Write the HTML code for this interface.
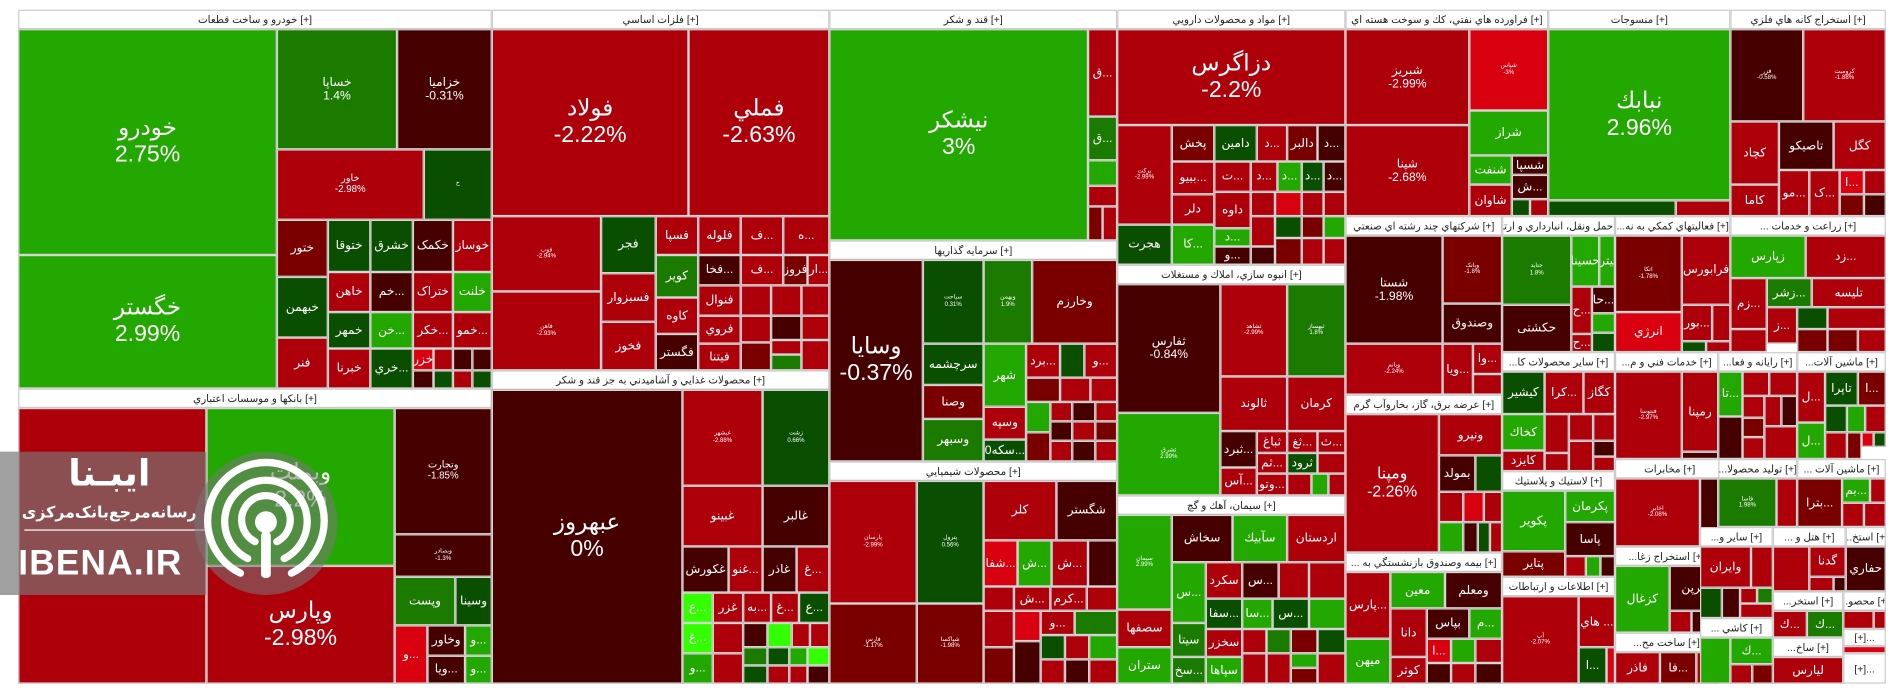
<!DOCTYPE html>
<html><head><meta charset="utf-8">
<style>
html,body{margin:0;padding:0;background:#fff;width:1904px;height:698px;overflow:hidden}
#w{position:absolute;left:0;top:0;width:1568px;height:576px;transform:scale(1.21429);transform-origin:0 0;font-family:"Liberation Sans","DejaVu Sans",sans-serif}
.t{position:absolute;box-sizing:border-box;border:1px solid #d6d6d6;display:flex;flex-direction:column;align-items:center;justify-content:center;color:#fff;font-size:8px;overflow:hidden;text-align:center;line-height:1.1;white-space:nowrap}
.h{position:absolute;box-sizing:border-box;border:1px solid #ccc;background:#fff;color:#222;font-size:8.5px;display:flex;align-items:center;justify-content:center;overflow:hidden;white-space:nowrap}
.L{font-size:19px;line-height:1.15}
.M{font-size:10px}
.S{font-size:5px}
.g{background:#22a800}.m{background:#1b7b00}.d{background:#0a4f00}.r{background:#ae000b}.k{background:#470000}.e{background:#7a0000}.b{background:#d9000f}.l{background:#33ff00}
</style></head><body><div id="w">
<!-- group 1 خودرو -->
<div class="h" style="left:15px;top:8px;width:390px;height:16px">خودرو و ساخت قطعات [+]</div>
<div class="t g L" style="left:15px;top:24px;width:213px;height:186px">خودرو<br>2.75%</div>
<div class="t g L" style="left:15px;top:210px;width:213px;height:110px">خگستر<br>2.99%</div>
<div class="t m M" style="left:228px;top:24px;width:99px;height:99px">خساپا<br>1.4%</div>
<div class="t k M" style="left:327px;top:24px;width:78px;height:99px">خزامیا<br>-0.31%</div>
<div class="t r" style="left:228px;top:123px;width:121px;height:58px">خاور<br>-2.98%</div>
<div class="t d S" style="left:349px;top:123px;width:56px;height:58px">خ</div>
<div class="t e M" style="left:228px;top:181px;width:42px;height:47px">ختور</div>
<div class="t d M" style="left:228px;top:228px;width:42px;height:50px">خبهمن</div>
<div class="t r M" style="left:228px;top:278px;width:42px;height:42px">فنر</div>
<div class="t d M" style="left:270px;top:181px;width:35px;height:43px">ختوقا</div>
<div class="t r M" style="left:270px;top:224px;width:35px;height:33px">خاهن</div>
<div class="t d M" style="left:270px;top:257px;width:35px;height:30px">خمهر</div>
<div class="t r M" style="left:270px;top:287px;width:35px;height:33px">خبرنا</div>
<div class="t d M" style="left:305px;top:181px;width:35px;height:43px">خشرق</div>
<div class="t k M" style="left:305px;top:224px;width:35px;height:33px">خم...</div>
<div class="t g M" style="left:305px;top:257px;width:35px;height:30px">خن...</div>
<div class="t d M" style="left:305px;top:287px;width:35px;height:33px">خري...</div>
<div class="t k M" style="left:340px;top:181px;width:33px;height:43px">خکمک</div>
<div class="t r M" style="left:340px;top:224px;width:33px;height:33px">ختراک</div>
<div class="t r M" style="left:340px;top:257px;width:33px;height:30px">خکر...</div>
<div class="t b M" style="left:340px;top:287px;width:17px;height:18px">خزر</div>
<div class="t r" style="left:357px;top:287px;width:16px;height:18px"></div>
<div class="t k" style="left:340px;top:305px;width:17px;height:15px"></div>
<div class="t d" style="left:357px;top:305px;width:16px;height:15px"></div>
<div class="t r M" style="left:373px;top:181px;width:32px;height:43px">خوساز</div>
<div class="t g M" style="left:373px;top:224px;width:32px;height:33px">خلنت</div>
<div class="t r M" style="left:373px;top:257px;width:32px;height:30px">خمو...</div>
<div class="t k" style="left:373px;top:287px;width:16px;height:18px"></div>
<div class="t k" style="left:389px;top:287px;width:16px;height:18px"></div>
<div class="t r" style="left:373px;top:305px;width:16px;height:15px"></div>
<div class="t d" style="left:389px;top:305px;width:16px;height:15px"></div>
<!-- banks -->
<div class="h" style="left:15px;top:320px;width:390px;height:16px">بانکها و موسسات اعتباري [+]</div>
<div class="t r" style="left:15px;top:336px;width:155px;height:227px"></div>
<div class="t g L" style="left:170px;top:336px;width:155px;height:130px">وبملت<br>2.2%</div>
<div class="t r L" style="left:170px;top:466px;width:155px;height:97px">وپارس<br>-2.98%</div>
<div class="t k" style="left:325px;top:336px;width:80px;height:104px">وتجارت<br>-1.85%</div>
<div class="t k S" style="left:325px;top:440px;width:80px;height:35px">وبصادر<br>-1.3%</div>
<div class="t m M" style="left:325px;top:475px;width:50px;height:40px">وپست</div>
<div class="t d M" style="left:375px;top:475px;width:30px;height:40px">وسینا</div>
<div class="t b M" style="left:325px;top:515px;width:27px;height:48px">و...</div>
<div class="t k M" style="left:352px;top:515px;width:31px;height:25px">وخاور</div>
<div class="t g M" style="left:383px;top:515px;width:22px;height:25px">و...</div>
<div class="t k M" style="left:352px;top:540px;width:31px;height:23px">ویا...</div>
<div class="t g M" style="left:383px;top:540px;width:22px;height:23px">و...</div>
<!-- فلزات -->
<div class="h" style="left:405px;top:8px;width:278px;height:16px">فلزات اساسي [+]</div>
<div class="t r L" style="left:405px;top:24px;width:162px;height:154px">فولاد<br>-2.22%</div>
<div class="t r L" style="left:567px;top:24px;width:116px;height:154px">فملي<br>-2.63%</div>
<div class="t r S" style="left:405px;top:178px;width:90px;height:62px">فوب<br>-2.94%</div>
<div class="t r S" style="left:405px;top:240px;width:90px;height:65px">فاهن<br>-2.93%</div>
<div class="t d M" style="left:495px;top:178px;width:45px;height:47px">فجر</div>
<div class="t r M" style="left:495px;top:225px;width:45px;height:40px">فسبزوار</div>
<div class="t r M" style="left:495px;top:265px;width:45px;height:40px">فخوز</div>
<div class="t r M" style="left:540px;top:178px;width:35px;height:32px">فسپا</div>
<div class="t m M" style="left:540px;top:210px;width:35px;height:35px">کویر</div>
<div class="t r M" style="left:540px;top:245px;width:35px;height:30px">کاوه</div>
<div class="t k M" style="left:540px;top:275px;width:35px;height:30px">فگستر</div>
<div class="t r M" style="left:575px;top:178px;width:35px;height:32px">فلوله</div>
<div class="t k M" style="left:575px;top:210px;width:35px;height:25px">فخا...</div>
<div class="t r M" style="left:575px;top:235px;width:35px;height:25px">فنوال</div>
<div class="t r M" style="left:575px;top:260px;width:35px;height:23px">فروي</div>
<div class="t r M" style="left:575px;top:283px;width:35px;height:22px">فيتنا</div>
<div class="t r M" style="left:610px;top:178px;width:35px;height:32px">ف...</div>
<div class="t r M" style="left:610px;top:210px;width:35px;height:25px">ف...</div>
<div class="t r" style="left:610px;top:235px;width:25px;height:25px"></div>
<div class="t r" style="left:610px;top:260px;width:25px;height:22px"></div>
<div class="t e" style="left:610px;top:282px;width:25px;height:23px"></div>
<div class="t r" style="left:635px;top:235px;width:25px;height:25px"></div>
<div class="t k" style="left:635px;top:260px;width:25px;height:20px"></div>
<div class="t r" style="left:635px;top:280px;width:25px;height:12px"></div>
<div class="t m" style="left:635px;top:292px;width:25px;height:13px"></div>
<div class="t r M" style="left:645px;top:178px;width:38px;height:32px">ه...</div>
<div class="t e M" style="left:645px;top:210px;width:20px;height:25px">فروز</div>
<div class="t r M" style="left:665px;top:210px;width:18px;height:25px">ار...</div>
<div class="t r" style="left:660px;top:235px;width:23px;height:25px"></div>
<div class="t r" style="left:660px;top:260px;width:23px;height:20px"></div>
<div class="t r" style="left:660px;top:280px;width:23px;height:25px"></div>
<!-- food -->
<div class="h" style="left:405px;top:305px;width:278px;height:16px">محصولات غذايي و آشاميدني به جز قند و شکر [+]</div>
<div class="t k L" style="left:405px;top:321px;width:157px;height:242px">عبهروز<br>0%</div>
<div class="t r S" style="left:562px;top:321px;width:66px;height:79px">غبشهر<br>-2.88%</div>
<div class="t d S" style="left:628px;top:321px;width:55px;height:79px">زشت<br>0.66%</div>
<div class="t r M" style="left:562px;top:400px;width:66px;height:50px">غبینو</div>
<div class="t k M" style="left:628px;top:400px;width:55px;height:50px">غالبر</div>
<div class="t k M" style="left:562px;top:450px;width:38px;height:38px">غکورش</div>
<div class="t r M" style="left:600px;top:450px;width:28px;height:38px">غنو...</div>
<div class="t k M" style="left:628px;top:450px;width:28px;height:38px">غاذر</div>
<div class="t r M" style="left:656px;top:450px;width:27px;height:38px">غ...</div>
<div class="t l M" style="left:562px;top:488px;width:25px;height:25px">ع...</div>
<div class="t r M" style="left:587px;top:488px;width:25px;height:25px">غزر</div>
<div class="t r M" style="left:612px;top:488px;width:23px;height:25px">به...</div>
<div class="t r M" style="left:635px;top:488px;width:23px;height:25px">غ...</div>
<div class="t d M" style="left:658px;top:488px;width:25px;height:25px">ع...</div>
<div class="t l M" style="left:562px;top:513px;width:25px;height:25px">غ...</div>
<div class="t g M" style="left:562px;top:538px;width:25px;height:25px">و...</div>
<div class="t r" style="left:587px;top:513px;width:25px;height:25px"></div>
<div class="t r" style="left:587px;top:538px;width:25px;height:25px"></div>
<div class="t k" style="left:612px;top:513px;width:20px;height:20px"></div>
<div class="t l" style="left:632px;top:513px;width:20px;height:20px"></div>
<div class="t r" style="left:652px;top:513px;width:15px;height:20px"></div>
<div class="t r" style="left:667px;top:513px;width:16px;height:20px"></div>
<div class="t m" style="left:612px;top:533px;width:20px;height:15px"></div>
<div class="t d" style="left:632px;top:533px;width:18px;height:15px"></div>
<div class="t g" style="left:650px;top:533px;width:15px;height:15px"></div>
<div class="t l" style="left:665px;top:533px;width:18px;height:15px"></div>
<div class="t d" style="left:612px;top:548px;width:20px;height:15px"></div>
<div class="t r" style="left:632px;top:548px;width:18px;height:15px"></div>
<div class="t r" style="left:650px;top:548px;width:15px;height:15px"></div>
<div class="t k" style="left:665px;top:548px;width:18px;height:15px"></div>
<!-- قند -->
<div class="h" style="left:683px;top:8px;width:237px;height:16px">قند و شکر [+]</div>
<div class="t g L" style="left:683px;top:24px;width:213px;height:174px">نیشکر<br>3%</div>
<div class="t r M" style="left:896px;top:24px;width:24px;height:72px">ق...</div>
<div class="t m M" style="left:896px;top:96px;width:24px;height:36px">ق...</div>
<div class="t g" style="left:896px;top:132px;width:24px;height:21px"></div>
<div class="t r" style="left:896px;top:153px;width:24px;height:17px"></div>
<div class="t e" style="left:896px;top:170px;width:12px;height:28px"></div>
<div class="t r" style="left:908px;top:170px;width:12px;height:28px"></div>
<!-- سرمایه -->
<div class="h" style="left:683px;top:198px;width:237px;height:16px">سرمايه گذاريها [+]</div>
<div class="t k L" style="left:683px;top:214px;width:77px;height:166px">وسایا<br>-0.37%</div>
<div class="t d S" style="left:760px;top:214px;width:50px;height:69px">سیاحت<br>0.31%</div>
<div class="t m S" style="left:810px;top:214px;width:40px;height:69px">وبهمن<br>1.9%</div>
<div class="t e M" style="left:850px;top:214px;width:70px;height:69px">وخارزم</div>
<div class="t d M" style="left:760px;top:283px;width:50px;height:34px">سرچشمه</div>
<div class="t e M" style="left:760px;top:317px;width:50px;height:28px">وصنا</div>
<div class="t m M" style="left:760px;top:345px;width:50px;height:35px">وسبهر</div>
<div class="t g M" style="left:810px;top:283px;width:35px;height:52px">شهر</div>
<div class="t r M" style="left:810px;top:335px;width:35px;height:27px">وسپه</div>
<div class="t d M" style="left:810px;top:362px;width:35px;height:18px">0سکه...</div>
<div class="t r M" style="left:845px;top:283px;width:28px;height:28px">برد...</div>
<div class="t d" style="left:873px;top:283px;width:20px;height:28px"></div>
<div class="t r M" style="left:893px;top:283px;width:27px;height:28px">و...</div>
<div class="t e" style="left:845px;top:311px;width:28px;height:20px"></div>
<div class="t r" style="left:873px;top:311px;width:25px;height:20px"></div>
<div class="t r" style="left:898px;top:311px;width:22px;height:20px"></div>
<div class="t g" style="left:845px;top:331px;width:20px;height:25px"></div>
<div class="t e" style="left:845px;top:356px;width:20px;height:24px"></div>
<div class="t r" style="left:865px;top:331px;width:18px;height:16px"></div>
<div class="t k" style="left:883px;top:331px;width:19px;height:16px"></div>
<div class="t r" style="left:902px;top:331px;width:18px;height:16px"></div>
<div class="t k" style="left:865px;top:347px;width:18px;height:16px"></div>
<div class="t r" style="left:883px;top:347px;width:19px;height:16px"></div>
<div class="t e" style="left:902px;top:347px;width:18px;height:16px"></div>
<div class="t r" style="left:865px;top:363px;width:18px;height:17px"></div>
<div class="t k" style="left:883px;top:363px;width:19px;height:17px"></div>
<div class="t r" style="left:902px;top:363px;width:18px;height:17px"></div>
<!-- شیمیایی -->
<div class="h" style="left:683px;top:380px;width:237px;height:16px">محصولات شيميايي [+]</div>
<div class="t r S" style="left:683px;top:396px;width:72px;height:101px">پارسان<br>-2.99%</div>
<div class="t e S" style="left:683px;top:497px;width:72px;height:66px">فارس<br>-1.17%</div>
<div class="t d S" style="left:755px;top:396px;width:55px;height:101px">پترول<br>0.56%</div>
<div class="t e S" style="left:755px;top:497px;width:55px;height:66px">شپاکسا<br>-1.98%</div>
<div class="t r M" style="left:810px;top:396px;width:60px;height:49px">کلر</div>
<div class="t k M" style="left:870px;top:396px;width:50px;height:49px">شگستر</div>
<div class="t b M" style="left:810px;top:445px;width:28px;height:38px">شفا...</div>
<div class="t g M" style="left:838px;top:445px;width:28px;height:38px">ش...</div>
<div class="t r M" style="left:866px;top:445px;width:30px;height:38px">ش...</div>
<div class="t k" style="left:896px;top:445px;width:24px;height:38px"></div>
<div class="t r" style="left:810px;top:483px;width:25px;height:20px"></div>
<div class="t r M" style="left:835px;top:483px;width:30px;height:20px">ش...</div>
<div class="t r M" style="left:865px;top:483px;width:30px;height:20px">کرم...</div>
<div class="t r" style="left:895px;top:483px;width:25px;height:20px"></div>
<div class="t r" style="left:810px;top:503px;width:25px;height:30px"></div>
<div class="t b" style="left:835px;top:503px;width:22px;height:25px"></div>
<div class="t r M" style="left:857px;top:503px;width:28px;height:20px">و...</div>
<div class="t m" style="left:885px;top:503px;width:35px;height:20px"></div>
<div class="t d" style="left:857px;top:523px;width:20px;height:20px"></div>
<div class="t r" style="left:877px;top:523px;width:20px;height:20px"></div>
<div class="t g" style="left:897px;top:523px;width:23px;height:20px"></div>
<div class="t k" style="left:835px;top:528px;width:22px;height:35px"></div>
<div class="t e" style="left:810px;top:533px;width:25px;height:30px"></div>
<div class="t r" style="left:857px;top:543px;width:20px;height:20px"></div>
<div class="t k" style="left:877px;top:543px;width:20px;height:20px"></div>
<div class="t r" style="left:897px;top:543px;width:23px;height:20px"></div>
<!-- دارویی -->
<div class="h" style="left:920px;top:8px;width:188px;height:16px">مواد و محصولات دارويي [+]</div>
<div class="t r L" style="left:920px;top:24px;width:188px;height:79px">دزاگرس<br>-2.2%</div>
<div class="t r S" style="left:920px;top:103px;width:45px;height:82px">برکت<br>-2.99%</div>
<div class="t d M" style="left:920px;top:185px;width:45px;height:33px">هجرت</div>
<div class="t e M" style="left:965px;top:103px;width:35px;height:30px">پخش</div>
<div class="t r M" style="left:965px;top:133px;width:35px;height:27px">ببیو...</div>
<div class="t r M" style="left:965px;top:160px;width:35px;height:25px">دلر</div>
<div class="t g M" style="left:965px;top:185px;width:35px;height:33px">کا...</div>
<div class="t d M" style="left:1000px;top:103px;width:35px;height:30px">دامین</div>
<div class="t r M" style="left:1035px;top:103px;width:25px;height:30px">د...</div>
<div class="t e M" style="left:1060px;top:103px;width:25px;height:30px">دالبر</div>
<div class="t k M" style="left:1085px;top:103px;width:23px;height:30px">د...</div>
<div class="t r M" style="left:1000px;top:133px;width:30px;height:25px">ت...</div>
<div class="t r M" style="left:1030px;top:133px;width:22px;height:25px">د...</div>
<div class="t g M" style="left:1052px;top:133px;width:20px;height:25px">د...</div>
<div class="t d M" style="left:1072px;top:133px;width:18px;height:25px">د...</div>
<div class="t k M" style="left:1090px;top:133px;width:18px;height:25px">د...</div>
<div class="t r M" style="left:1000px;top:158px;width:30px;height:30px">داوه</div>
<div class="t g M" style="left:1000px;top:188px;width:30px;height:15px">د...</div>
<div class="t k M" style="left:1000px;top:203px;width:30px;height:15px">و...</div>
<div class="t r" style="left:1030px;top:158px;width:20px;height:20px"></div>
<div class="t b" style="left:1050px;top:158px;width:22px;height:20px"></div>
<div class="t r" style="left:1072px;top:158px;width:18px;height:20px"></div>
<div class="t r" style="left:1090px;top:158px;width:18px;height:20px"></div>
<div class="t r" style="left:1030px;top:178px;width:20px;height:25px"></div>
<div class="t d" style="left:1050px;top:178px;width:22px;height:18px"></div>
<div class="t e" style="left:1072px;top:178px;width:18px;height:18px"></div>
<div class="t g" style="left:1090px;top:178px;width:18px;height:18px"></div>
<div class="t k" style="left:1030px;top:203px;width:20px;height:15px"></div>
<div class="t e" style="left:1050px;top:196px;width:22px;height:22px"></div>
<div class="t r" style="left:1072px;top:196px;width:18px;height:22px"></div>
<div class="t r" style="left:1090px;top:196px;width:18px;height:22px"></div>
<!-- انبوه -->
<div class="h" style="left:920px;top:218px;width:188px;height:16px">انبوه سازي، املاك و مستغلات [+]</div>
<div class="t k M" style="left:920px;top:234px;width:85px;height:106px">ثفارس<br>-0.84%</div>
<div class="t g S" style="left:920px;top:340px;width:85px;height:68px">ثشرق<br>2.99%</div>
<div class="t r S" style="left:1005px;top:234px;width:55px;height:76px">ثشاهد<br>-2.99%</div>
<div class="t m S" style="left:1060px;top:234px;width:48px;height:76px">ثبهساز<br>1.8%</div>
<div class="t r M" style="left:1005px;top:310px;width:55px;height:45px">ثالوند</div>
<div class="t r M" style="left:1060px;top:310px;width:48px;height:45px">کرمان</div>
<div class="t k M" style="left:1005px;top:355px;width:30px;height:30px">ثبرد...</div>
<div class="t r M" style="left:1005px;top:385px;width:30px;height:23px">آس...</div>
<div class="t r M" style="left:1035px;top:355px;width:25px;height:18px">ثباغ</div>
<div class="t r M" style="left:1060px;top:355px;width:25px;height:18px">ثغ...</div>
<div class="t r M" style="left:1085px;top:355px;width:23px;height:18px">ث...</div>
<div class="t r M" style="left:1035px;top:373px;width:25px;height:17px">ثم...</div>
<div class="t d M" style="left:1060px;top:373px;width:25px;height:17px">ثرود</div>
<div class="t r" style="left:1085px;top:373px;width:23px;height:17px"></div>
<div class="t r M" style="left:1035px;top:390px;width:25px;height:18px">وتو...</div>
<div class="t r" style="left:1060px;top:390px;width:20px;height:18px"></div>
<div class="t g" style="left:1080px;top:390px;width:14px;height:18px"></div>
<div class="t r" style="left:1094px;top:390px;width:14px;height:18px"></div>
<!-- سیمان -->
<div class="h" style="left:920px;top:408px;width:188px;height:16px">سيمان، آهك و گچ [+]</div>
<div class="t g S" style="left:920px;top:424px;width:45px;height:78px">سیمان<br>2.99%</div>
<div class="t r M" style="left:920px;top:502px;width:45px;height:31px">سصفها</div>
<div class="t g M" style="left:920px;top:533px;width:45px;height:30px">ستران</div>
<div class="t k M" style="left:965px;top:424px;width:50px;height:39px">سخاش</div>
<div class="t g M" style="left:1015px;top:424px;width:45px;height:39px">سآبيك</div>
<div class="t r M" style="left:1060px;top:424px;width:48px;height:39px">اردستان</div>
<div class="t g M" style="left:965px;top:463px;width:28px;height:50px">س...</div>
<div class="t m M" style="left:965px;top:513px;width:28px;height:28px">سيتا</div>
<div class="t m M" style="left:965px;top:541px;width:28px;height:22px">سخ...</div>
<div class="t r M" style="left:993px;top:463px;width:30px;height:30px">سكرد</div>
<div class="t k M" style="left:1023px;top:463px;width:30px;height:30px">س...</div>
<div class="t r" style="left:1053px;top:463px;width:25px;height:30px"></div>
<div class="t r" style="left:1078px;top:463px;width:30px;height:30px"></div>
<div class="t d M" style="left:993px;top:493px;width:30px;height:25px">سفا...</div>
<div class="t g M" style="left:1023px;top:493px;width:25px;height:25px">سا...</div>
<div class="t d M" style="left:1048px;top:493px;width:30px;height:25px">س...</div>
<div class="t g" style="left:1078px;top:493px;width:30px;height:25px"></div>
<div class="t r M" style="left:993px;top:518px;width:30px;height:23px">سخزر</div>
<div class="t g M" style="left:993px;top:541px;width:30px;height:22px">سپاها</div>
<div class="t r" style="left:1023px;top:518px;width:20px;height:20px"></div>
<div class="t m" style="left:1043px;top:518px;width:20px;height:20px"></div>
<div class="t e" style="left:1063px;top:518px;width:22px;height:20px"></div>
<div class="t d" style="left:1085px;top:518px;width:23px;height:20px"></div>
<div class="t r" style="left:1023px;top:538px;width:20px;height:25px"></div>
<div class="t r" style="left:1043px;top:538px;width:20px;height:25px"></div>
<div class="t g" style="left:1063px;top:538px;width:22px;height:12px"></div>
<div class="t e" style="left:1063px;top:550px;width:22px;height:13px"></div>
<div class="t r" style="left:1085px;top:538px;width:23px;height:25px"></div>
<!-- فراورده -->
<div class="h" style="left:1108px;top:8px;width:167px;height:16px">فراورده هاي نفتي، كك و سوخت هسته اي [+]</div>
<div class="t r M" style="left:1108px;top:24px;width:102px;height:79px">شبریز<br>-2.99%</div>
<div class="t r M" style="left:1108px;top:103px;width:102px;height:75px">شپنا<br>-2.68%</div>
<div class="t b S" style="left:1210px;top:24px;width:65px;height:67px">شپاس<br>-3%</div>
<div class="t g M" style="left:1210px;top:91px;width:65px;height:37px">شراز</div>
<div class="t g M" style="left:1210px;top:128px;width:35px;height:24px">شنفت</div>
<div class="t k M" style="left:1245px;top:128px;width:30px;height:16px">شسپا</div>
<div class="t k M" style="left:1245px;top:144px;width:30px;height:20px">ش...</div>
<div class="t r M" style="left:1210px;top:152px;width:35px;height:26px">شاوان</div>
<div class="t d" style="left:1245px;top:164px;width:15px;height:14px"></div>
<div class="t r" style="left:1260px;top:164px;width:15px;height:14px"></div>
<!-- منسوجات -->
<div class="h" style="left:1275px;top:8px;width:150px;height:16px">منسوجات [+]</div>
<div class="t g L" style="left:1275px;top:24px;width:150px;height:141px">نبابك<br>2.96%</div>
<div class="t d" style="left:1275px;top:165px;width:105px;height:13px"></div>
<div class="t r" style="left:1380px;top:165px;width:45px;height:13px"></div>
<!-- استخراج فلزی -->
<div class="h" style="left:1425px;top:8px;width:128px;height:16px">استخراج کانه هاي فلزي [+]</div>
<div class="t k S" style="left:1425px;top:24px;width:60px;height:76px">فزر<br>-0.58%</div>
<div class="t r S" style="left:1485px;top:24px;width:68px;height:76px">کروميت<br>-1.88%</div>
<div class="t r M" style="left:1425px;top:100px;width:40px;height:52px">کچاد</div>
<div class="t k M" style="left:1465px;top:100px;width:45px;height:40px">تاصیکو</div>
<div class="t r M" style="left:1510px;top:100px;width:43px;height:40px">کگل</div>
<div class="t r M" style="left:1425px;top:152px;width:40px;height:26px">کاما</div>
<div class="t r M" style="left:1465px;top:140px;width:25px;height:38px">مو...</div>
<div class="t r M" style="left:1490px;top:140px;width:25px;height:38px">ک...</div>
<div class="t b M" style="left:1515px;top:140px;width:20px;height:20px">ا...</div>
<div class="t r" style="left:1535px;top:140px;width:18px;height:20px"></div>
<div class="t e" style="left:1515px;top:160px;width:20px;height:18px"></div>
<div class="t k" style="left:1535px;top:160px;width:18px;height:18px"></div>
<!-- چندرشته -->
<div class="h" style="left:1108px;top:178px;width:129px;height:16px">شرکتهاي چند رشته اي صنعتي [+]</div>
<div class="t k M" style="left:1108px;top:194px;width:80px;height:89px">شستا<br>-1.98%</div>
<div class="t e S" style="left:1188px;top:194px;width:49px;height:56px">وبانک<br>-1.8%</div>
<div class="t k M" style="left:1188px;top:250px;width:49px;height:33px">وصندوق</div>
<div class="t r S" style="left:1108px;top:283px;width:80px;height:42px">وبانم<br>-2.24%</div>
<div class="t r M" style="left:1188px;top:283px;width:25px;height:42px">ویا...</div>
<div class="t r M" style="left:1213px;top:283px;width:24px;height:25px">وا...</div>
<div class="t r" style="left:1213px;top:308px;width:24px;height:17px"></div>
<!-- برق -->
<div class="h" style="left:1108px;top:325px;width:129px;height:16px">عرضه برق، گاز، بخاروآب گرم [+]</div>
<div class="t r L" style="left:1108px;top:341px;width:77px;height:114px"><span style="font-size:13px">ومپنا<br>-2.26%</span></div>
<div class="t r M" style="left:1185px;top:341px;width:52px;height:34px">ونیرو</div>
<div class="t k M" style="left:1185px;top:375px;width:30px;height:30px">بمولد</div>
<div class="t d" style="left:1215px;top:375px;width:22px;height:30px"></div>
<div class="t r" style="left:1185px;top:405px;width:20px;height:25px"></div>
<div class="t b" style="left:1205px;top:405px;width:17px;height:25px"></div>
<div class="t r" style="left:1222px;top:405px;width:15px;height:25px"></div>
<div class="t g" style="left:1185px;top:430px;width:20px;height:25px"></div>
<div class="t k" style="left:1205px;top:430px;width:12px;height:25px"></div>
<div class="t d" style="left:1217px;top:430px;width:10px;height:25px"></div>
<div class="t r" style="left:1227px;top:430px;width:10px;height:25px"></div>
<!-- بیمه -->
<div class="h" style="left:1108px;top:455px;width:129px;height:16px">... بيمه وصندوق بازنشستگي به [+]</div>
<div class="t r M" style="left:1108px;top:471px;width:37px;height:55px">پارس...</div>
<div class="t g M" style="left:1108px;top:526px;width:37px;height:37px">میهن</div>
<div class="t g M" style="left:1145px;top:471px;width:45px;height:30px">معین</div>
<div class="t k M" style="left:1190px;top:471px;width:47px;height:30px">ومعلم</div>
<div class="t r M" style="left:1145px;top:501px;width:30px;height:40px">دانا</div>
<div class="t r M" style="left:1145px;top:541px;width:30px;height:22px">کوثر</div>
<div class="t k M" style="left:1175px;top:501px;width:35px;height:25px">بپاس</div>
<div class="t g M" style="left:1210px;top:501px;width:27px;height:25px">م...</div>
<div class="t b M" style="left:1175px;top:526px;width:20px;height:20px">ا...</div>
<div class="t g" style="left:1195px;top:526px;width:20px;height:20px"></div>
<div class="t r" style="left:1215px;top:526px;width:22px;height:20px"></div>
<div class="t k" style="left:1175px;top:546px;width:20px;height:17px"></div>
<div class="t r" style="left:1195px;top:546px;width:20px;height:17px"></div>
<div class="t k" style="left:1215px;top:546px;width:22px;height:17px"></div>
<!-- حمل -->
<div class="h" style="left:1237px;top:178px;width:93px;height:16px">...حمل ونقل، انبارداري و ارتبا [+]</div>
<div class="t m S" style="left:1237px;top:194px;width:57px;height:57px">حتايد<br>1.8%</div>
<div class="t k M" style="left:1237px;top:251px;width:57px;height:39px">حکشتی</div>
<div class="t g M" style="left:1294px;top:194px;width:23px;height:42px">حسينا</div>
<div class="t g M" style="left:1317px;top:194px;width:13px;height:42px">حيترو</div>
<div class="t r M" style="left:1294px;top:236px;width:17px;height:39px">ح...</div>
<div class="t k M" style="left:1311px;top:236px;width:19px;height:22px">حا...</div>
<div class="t g" style="left:1311px;top:258px;width:19px;height:16px"></div>
<div class="t r M" style="left:1294px;top:275px;width:17px;height:15px">ح...</div>
<div class="t d" style="left:1311px;top:274px;width:19px;height:16px"></div>
<!-- فعالیت -->
<div class="h" style="left:1330px;top:178px;width:95px;height:16px">...فعاليتهاي كمكي به نه [+]</div>
<div class="t e S" style="left:1330px;top:194px;width:55px;height:63px">اتکا<br>-1.78%</div>
<div class="t b M" style="left:1330px;top:257px;width:55px;height:33px">انرژي</div>
<div class="t r M" style="left:1385px;top:194px;width:40px;height:57px">فرابورس</div>
<div class="t r M" style="left:1385px;top:251px;width:25px;height:30px">بور...</div>
<div class="t r" style="left:1410px;top:251px;width:15px;height:30px"></div>
<div class="t d" style="left:1385px;top:281px;width:20px;height:9px"></div>
<div class="t r" style="left:1405px;top:281px;width:20px;height:9px"></div>
<!-- زراعت -->
<div class="h" style="left:1425px;top:178px;width:128px;height:16px">... زراعت و خدمات [+]</div>
<div class="t g M" style="left:1425px;top:194px;width:62px;height:35px">زپارس</div>
<div class="t r M" style="left:1487px;top:194px;width:66px;height:35px">زد...</div>
<div class="t r M" style="left:1425px;top:229px;width:30px;height:42px">زم...</div>
<div class="t m M" style="left:1455px;top:229px;width:37px;height:24px">زشر...</div>
<div class="t r M" style="left:1492px;top:229px;width:61px;height:24px">تلیسه</div>
<div class="t r M" style="left:1455px;top:253px;width:25px;height:30px">ز...</div>
<div class="t d" style="left:1480px;top:253px;width:25px;height:18px"></div>
<div class="t r" style="left:1505px;top:253px;width:48px;height:18px"></div>
<div class="t r" style="left:1425px;top:271px;width:30px;height:19px"></div>
<div class="t e" style="left:1480px;top:271px;width:25px;height:19px"></div>
<div class="t e" style="left:1505px;top:271px;width:25px;height:19px"></div>
<div class="t r" style="left:1530px;top:271px;width:23px;height:19px"></div>
<!-- سایر محصولات کا -->
<div class="h" style="left:1237px;top:290px;width:93px;height:16px">...ساير محصولات كا [+]</div>
<div class="t d M" style="left:1237px;top:306px;width:35px;height:35px">کیشیر</div>
<div class="t r M" style="left:1272px;top:306px;width:32px;height:35px">کرا...</div>
<div class="t r M" style="left:1304px;top:306px;width:26px;height:35px">کگاز</div>
<div class="t g M" style="left:1237px;top:341px;width:35px;height:30px">کخاك</div>
<div class="t r M" style="left:1237px;top:371px;width:35px;height:17px">کایزد</div>
<div class="t r" style="left:1272px;top:341px;width:20px;height:32px"></div>
<div class="t r" style="left:1292px;top:341px;width:20px;height:22px"></div>
<div class="t r" style="left:1312px;top:341px;width:18px;height:22px"></div>
<div class="t r" style="left:1292px;top:363px;width:20px;height:25px"></div>
<div class="t k" style="left:1312px;top:363px;width:18px;height:13px"></div>
<div class="t r" style="left:1312px;top:376px;width:18px;height:12px"></div>
<div class="t r" style="left:1272px;top:373px;width:20px;height:15px"></div>
<!-- خدمات فنی -->
<div class="h" style="left:1330px;top:290px;width:85px;height:16px">...خدمات فني و م [+]</div>
<div class="t r S" style="left:1330px;top:306px;width:55px;height:72px">فنتوسا<br>-2.97%</div>
<div class="t r M" style="left:1385px;top:306px;width:30px;height:66px">رمپنا</div>
<div class="t k" style="left:1385px;top:372px;width:30px;height:6px"></div>
<!-- رایانه -->
<div class="h" style="left:1415px;top:290px;width:65px;height:16px">...رايانه و فعا [+]</div>
<div class="t g M" style="left:1415px;top:306px;width:20px;height:37px">تا...</div>
<div class="t k" style="left:1415px;top:343px;width:20px;height:35px"></div>
<div class="t r" style="left:1435px;top:306px;width:22px;height:20px"></div>
<div class="t r" style="left:1457px;top:306px;width:23px;height:20px"></div>
<div class="t r" style="left:1435px;top:326px;width:18px;height:18px"></div>
<div class="t r" style="left:1453px;top:326px;width:14px;height:25px"></div>
<div class="t k" style="left:1467px;top:326px;width:13px;height:25px"></div>
<div class="t e" style="left:1435px;top:344px;width:18px;height:16px"></div>
<div class="t r" style="left:1435px;top:360px;width:18px;height:18px"></div>
<div class="t r" style="left:1453px;top:351px;width:27px;height:27px"></div>
<!-- ماشین -->
<div class="h" style="left:1480px;top:290px;width:73px;height:16px">...ماشين آلات [+]</div>
<div class="t r M" style="left:1480px;top:306px;width:23px;height:42px">ل...</div>
<div class="t g M" style="left:1480px;top:348px;width:23px;height:30px">ل...</div>
<div class="t d M" style="left:1503px;top:306px;width:27px;height:28px">تاپرا</div>
<div class="t e M" style="left:1530px;top:306px;width:23px;height:28px">ا...</div>
<div class="t d" style="left:1503px;top:334px;width:18px;height:22px"></div>
<div class="t g" style="left:1521px;top:334px;width:15px;height:22px"></div>
<div class="t r" style="left:1536px;top:334px;width:17px;height:22px"></div>
<div class="t r" style="left:1503px;top:356px;width:18px;height:22px"></div>
<div class="t e" style="left:1521px;top:356px;width:12px;height:22px"></div>
<div class="t b" style="left:1533px;top:356px;width:10px;height:12px"></div>
<div class="t d" style="left:1543px;top:356px;width:10px;height:12px"></div>
<!-- لاستیک -->
<div class="h" style="left:1237px;top:388px;width:93px;height:16px">لاستيك و پلاستيك [+]</div>
<div class="t g M" style="left:1237px;top:404px;width:52px;height:50px">پکویر</div>
<div class="t g M" style="left:1289px;top:404px;width:41px;height:26px">پکرمان</div>
<div class="t k M" style="left:1289px;top:430px;width:41px;height:28px">پاسا</div>
<div class="t e M" style="left:1237px;top:454px;width:52px;height:21px">پتایر</div>
<div class="t r" style="left:1289px;top:458px;width:17px;height:17px"></div>
<div class="t g" style="left:1306px;top:458px;width:12px;height:17px"></div>
<div class="t k" style="left:1318px;top:458px;width:12px;height:17px"></div>
<!-- اطلاعات -->
<div class="h" style="left:1237px;top:475px;width:93px;height:16px">اطلاعات و ارتباطات [+]</div>
<div class="t r S" style="left:1237px;top:491px;width:63px;height:72px">آپ<br>-2.07%</div>
<div class="t r M" style="left:1300px;top:491px;width:30px;height:42px">هاي ...</div>
<div class="t d M" style="left:1300px;top:533px;width:23px;height:30px">ا...</div>
<div class="t b" style="left:1323px;top:533px;width:7px;height:30px"></div>
<!-- مخابرات -->
<div class="h" style="left:1330px;top:378px;width:90px;height:16px">مخابرات [+]</div>
<div class="t r S" style="left:1330px;top:394px;width:70px;height:56px">اخابر<br>-2.08%</div>
<div class="t k" style="left:1400px;top:394px;width:15px;height:56px"></div>
<div class="h" style="left:1330px;top:450px;width:85px;height:16px">...استخراج زغا [+]</div>
<div class="t g M" style="left:1330px;top:466px;width:45px;height:55px">کزغال</div>
<div class="t k M" style="left:1375px;top:466px;width:40px;height:37px">کرپن</div>
<div class="t r" style="left:1375px;top:503px;width:18px;height:18px"></div>
<div class="t k" style="left:1393px;top:503px;width:11px;height:18px"></div>
<div class="t k" style="left:1404px;top:503px;width:11px;height:18px"></div>
<div class="h" style="left:1330px;top:521px;width:85px;height:16px">...ساخت مح [+]</div>
<div class="t r M" style="left:1330px;top:537px;width:37px;height:26px">فاذر</div>
<div class="t e M" style="left:1367px;top:537px;width:30px;height:26px">فا...</div>
<div class="t r" style="left:1397px;top:537px;width:18px;height:26px"></div>
<!-- تولید محصولا -->
<div class="h" style="left:1415px;top:378px;width:65px;height:16px">...توليد محصولا [+]</div>
<div class="t m S" style="left:1415px;top:394px;width:48px;height:40px">فاسا<br>1.98%</div>
<div class="t r" style="left:1463px;top:394px;width:17px;height:40px"></div>
<div class="h" style="left:1480px;top:378px;width:73px;height:16px">... ماشين آلات [+]</div>
<div class="t e M" style="left:1480px;top:394px;width:37px;height:40px">بترا...</div>
<div class="t g M" style="left:1517px;top:394px;width:23px;height:20px">بم...</div>
<div class="t r" style="left:1540px;top:394px;width:13px;height:20px"></div>
<div class="t r" style="left:1517px;top:414px;width:18px;height:20px"></div>
<div class="t r" style="left:1535px;top:414px;width:18px;height:20px"></div>
<div class="h" style="left:1400px;top:434px;width:60px;height:16px">...ساير و [+]</div>
<div class="t r M" style="left:1400px;top:450px;width:42px;height:34px">وایران</div>
<div class="t r" style="left:1442px;top:450px;width:18px;height:34px"></div>
<div class="t d" style="left:1400px;top:484px;width:18px;height:25px"></div>
<div class="t k" style="left:1418px;top:484px;width:15px;height:25px"></div>
<div class="t r" style="left:1433px;top:484px;width:14px;height:13px"></div>
<div class="t m" style="left:1447px;top:484px;width:13px;height:13px"></div>
<div class="t r" style="left:1433px;top:497px;width:27px;height:12px"></div>
<div class="h" style="left:1460px;top:434px;width:60px;height:16px">... هتل و [+]</div>
<div class="t r" style="left:1460px;top:450px;width:30px;height:37px"></div>
<div class="t r M" style="left:1490px;top:450px;width:30px;height:25px">گدنا</div>
<div class="t r" style="left:1490px;top:475px;width:20px;height:12px"></div>
<div class="t k" style="left:1510px;top:475px;width:10px;height:12px"></div>
<div class="h" style="left:1520px;top:434px;width:33px;height:16px">...استخ [+]</div>
<div class="t k M" style="left:1520px;top:450px;width:33px;height:37px">حفاري</div>
<div class="h" style="left:1460px;top:487px;width:58px;height:16px">...استخر [+]</div>
<div class="t r M" style="left:1460px;top:503px;width:28px;height:22px">ك...</div>
<div class="t m M" style="left:1488px;top:503px;width:30px;height:22px">ك...</div>
<div class="h" style="left:1518px;top:487px;width:35px;height:16px">...محصو [+]</div>
<div class="t r" style="left:1518px;top:503px;width:25px;height:15px"></div>
<div class="t r" style="left:1543px;top:503px;width:10px;height:15px"></div>
<div class="h" style="left:1400px;top:509px;width:60px;height:16px">... كاشي [+]</div>
<div class="t g" style="left:1400px;top:525px;width:25px;height:38px"></div>
<div class="t g M" style="left:1425px;top:525px;width:35px;height:22px">ك...</div>
<div class="t r" style="left:1425px;top:547px;width:18px;height:16px"></div>
<div class="t e" style="left:1443px;top:547px;width:17px;height:16px"></div>
<div class="h" style="left:1460px;top:525px;width:58px;height:16px">...ساخ [+]</div>
<div class="t r M" style="left:1460px;top:541px;width:58px;height:22px">ليارس</div>
<div class="h" style="left:1518px;top:518px;width:35px;height:14px">[+]...</div>
<div class="t b" style="left:1518px;top:532px;width:35px;height:6px"></div>
<div class="h" style="left:1518px;top:538px;width:35px;height:25px">[+]...</div>
<!-- watermark -->
<div style="position:absolute;left:0;top:372px;width:170px;height:118px;background:rgba(120,120,120,.65)"></div>
<div style="position:absolute;left:0;top:372px;width:15px;height:118px;background:#a0a0a0"></div>
<div style="position:absolute;left:10px;top:376px;width:160px;text-align:center;color:#fff;font-size:30px;font-weight:bold;line-height:1">ايبـنا</div>
<div style="position:absolute;left:10px;top:414px;width:160px;text-align:center;color:#fff;font-size:13px;font-weight:bold">رسانه‌مرجع‌بانک‌مرکزی</div>
<div style="position:absolute;left:20px;top:436px;width:150px;height:1px;background:#fff"></div>
<div style="position:absolute;left:15px;top:448px;width:160px;color:#fff;font-size:29px;font-weight:bold;font-family:'Liberation Sans',sans-serif;letter-spacing:1px">IBENA.IR</div>
<div style="position:absolute;left:160px;top:372px;width:118px;height:118px;border-radius:50%;background:rgba(120,120,120,.55)"></div>
<svg style="position:absolute;left:160px;top:372px" width="118" height="118" viewBox="0 0 118 118">
<g fill="none" stroke="#fff" stroke-width="6" stroke-linecap="round">
<path d="M38 100 A48 48 0 1 1 80 100"/>
<path d="M44 88 A34 34 0 1 1 74 88"/>
<path d="M50 74 A20 20 0 1 1 68 74"/>
</g>
<circle cx="59" cy="58" r="9" fill="#fff"/>
<rect x="55" y="66" width="8" height="38" rx="3" fill="#fff"/>
</svg>
</div></body></html>
